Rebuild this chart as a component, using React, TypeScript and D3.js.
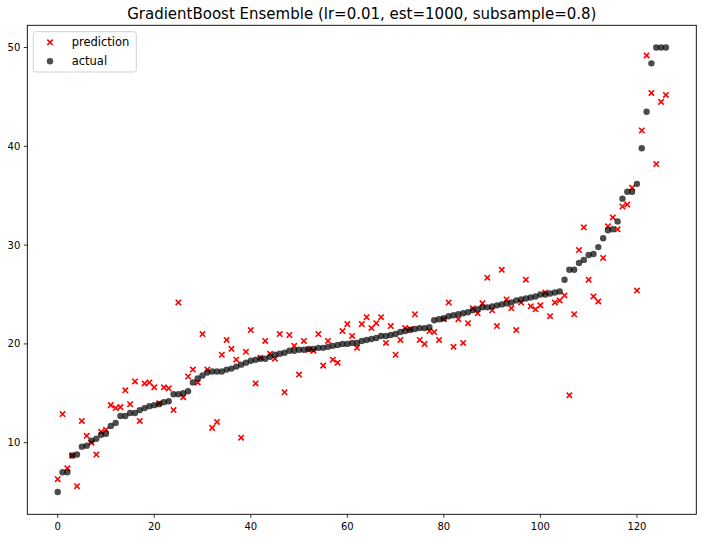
import React from "react";
import * as d3 from "d3";

const title = "GradientBoost Ensemble (lr=0.01, est=1000, subsample=0.8)";

const actual: number[] = [
  5.0, 7.0, 7.0, 8.7, 8.8, 9.6, 9.7, 10.2, 10.4, 10.8,
  10.9, 11.7, 12.0, 12.7, 12.7, 13.0, 13.0, 13.3, 13.5, 13.7,
  13.8, 13.9, 14.1, 14.2, 14.9, 14.9, 15.0, 15.2, 16.1, 16.5,
  16.8, 17.1, 17.2, 17.2, 17.2, 17.4, 17.5, 17.7, 17.9, 18.1,
  18.3, 18.4, 18.5, 18.5, 18.7, 18.9, 19.0, 19.1, 19.3, 19.3,
  19.4, 19.4, 19.5, 19.5, 19.6, 19.6, 19.7, 19.8, 19.9, 20.0,
  20.0, 20.1, 20.1, 20.3, 20.4, 20.5, 20.6, 20.8, 20.8, 20.9,
  21.0, 21.2, 21.3, 21.4, 21.5, 21.6, 21.6, 21.7, 22.4, 22.5,
  22.6, 22.8, 22.9, 23.0, 23.1, 23.2, 23.4, 23.5, 23.7, 23.7,
  23.8, 23.9, 24.0, 24.1, 24.2, 24.4, 24.5, 24.6, 24.7, 24.8,
  25.0, 25.0, 25.1, 25.2, 25.3, 26.5, 27.5, 27.5, 28.2, 28.5,
  29.0, 29.1, 29.8, 30.7, 31.5, 31.6, 32.4, 34.7, 35.4, 35.4,
  36.2, 39.8, 43.5, 48.4, 50.0, 50.0, 50.0,
];

const prediction: number[] = [
  6.3, 12.9, 7.4, 8.7, 5.6, 12.2, 10.7, 10.0, 8.8, 11.1,
  11.3, 13.8, 13.5, 13.6, 15.3, 13.9, 16.2, 12.2, 16.0, 16.1,
  15.6, 14.0, 15.6, 15.5, 13.3, 24.2, 14.6, 16.7, 17.4, 16.1,
  21.0, 17.4, 11.5, 12.1, 18.9, 20.4, 19.5, 18.4, 10.5, 19.2,
  21.4, 16.0, 18.6, 20.3, 19.0, 18.5, 21.0, 15.1, 20.9, 19.8,
  16.9, 20.3, 19.4, 19.3, 21.0, 17.8, 20.3, 18.4, 18.1, 21.3,
  22.0, 20.8, 19.6, 22.0, 22.7, 21.6, 22.1, 22.7, 20.1, 21.8,
  18.9, 20.4, 21.6, 21.5, 23.0, 20.4, 20.0, 21.3, 21.2, 20.4,
  22.5, 24.2, 19.7, 22.5, 20.1, 22.1, 23.6, 23.1, 24.1, 26.7,
  23.4, 21.8, 27.5, 24.5, 23.6, 21.4, 24.2, 26.5, 23.8, 23.5,
  23.9, 25.2, 22.8, 24.2, 24.4, 24.9, 14.8, 23.0, 29.5, 31.8,
  26.5, 24.8, 24.3, 28.7, 31.9, 32.8, 31.6, 33.9, 34.1, 35.8,
  25.4, 41.6, 49.2, 45.4, 38.2, 44.5, 45.2,
];

const xTicks = [0, 20, 40, 60, 80, 100, 120];
const yTicks = [10, 20, 30, 40, 50];
const legendLabels = ["prediction", "actual"];

const W = 703;
const H = 538;
const plot = { left: 27.3, right: 696.3, top: 25.3, bottom: 514.3 };
const FONT = "DejaVu Sans, sans-serif";

function padded(lo: number, hi: number): [number, number] {
  const m = (hi - lo) * 0.05;
  return [lo - m, hi + m];
}

export default function App() {
  const idx = actual.map((_, i) => i);
  const x = d3
    .scaleLinear()
    .domain(padded(0, actual.length - 1))
    .range([plot.left, plot.right]);
  const all = actual.concat(prediction);
  const y = d3
    .scaleLinear()
    .domain(padded(d3.min(all) as number, d3.max(all) as number))
    .range([plot.bottom, plot.top]);

  const xs = 2.7;
  const cross = (cx: number, cy: number, key: any) => (
    <path
      key={key}
      d={`M${cx - xs},${cy - xs}L${cx + xs},${cy + xs}M${cx - xs},${cy + xs}L${cx + xs},${cy - xs}`}
      stroke="#ff0000"
      strokeWidth={1.6}
      fill="none"
    />
  );

  return (
    <svg
      width={W}
      height={H}
      style={{ position: "absolute", left: 0, top: 0, background: "#fff" }}
      fontFamily={FONT}
    >
      <rect x={0} y={0} width={W} height={H} fill="#fff" />
      <text x={(plot.left + plot.right) / 2} y={19} textAnchor="middle" fontSize={15} fill="#000">
        {title}
      </text>

      {/* predictions */}
      <g>{idx.map((i) => cross(x(i), y(prediction[i]), "p" + i))}</g>
      {/* actual */}
      <g>
        {idx.map((i) => (
          <circle key={"a" + i} cx={x(i)} cy={y(actual[i])} r={3.2} fill="#000" fillOpacity={0.7} />
        ))}
      </g>

      {/* spines */}
      <rect
        x={plot.left}
        y={plot.top}
        width={plot.right - plot.left}
        height={plot.bottom - plot.top}
        fill="none"
        stroke="#000"
        strokeWidth={0.9}
      />

      {/* x ticks */}
      {xTicks.map((t) => (
        <g key={"xt" + t}>
          <line x1={x(t)} x2={x(t)} y1={plot.bottom} y2={plot.bottom + 3.5} stroke="#000" strokeWidth={0.8} />
          <text x={x(t)} y={529.5} textAnchor="middle" fontSize={10} fill="#000">
            {t}
          </text>
        </g>
      ))}
      {/* y ticks */}
      {yTicks.map((t) => (
        <g key={"yt" + t}>
          <line x1={plot.left - 3.5} x2={plot.left} y1={y(t)} y2={y(t)} stroke="#000" strokeWidth={0.8} />
          <text x={plot.left - 7} y={y(t)} dy="0.35em" textAnchor="end" fontSize={10} fill="#000">
            {t}
          </text>
        </g>
      ))}

      {/* legend */}
      <g>
        <rect x={33.3} y={31.7} width={103} height={40.3} rx={2.5} fill="#fff" fillOpacity={0.8} stroke="#cccccc" strokeWidth={0.9} />
        {cross(50, 42.3, "lg0")}
        <text x={71.7} y={46.3} fontSize={11.5} fill="#000">
          {legendLabels[0]}
        </text>
        <circle cx={50} cy={61.3} r={3.2} fill="#000" fillOpacity={0.7} />
        <text x={71.7} y={65.2} fontSize={11.5} fill="#000">
          {legendLabels[1]}
        </text>
      </g>
    </svg>
  );
}
